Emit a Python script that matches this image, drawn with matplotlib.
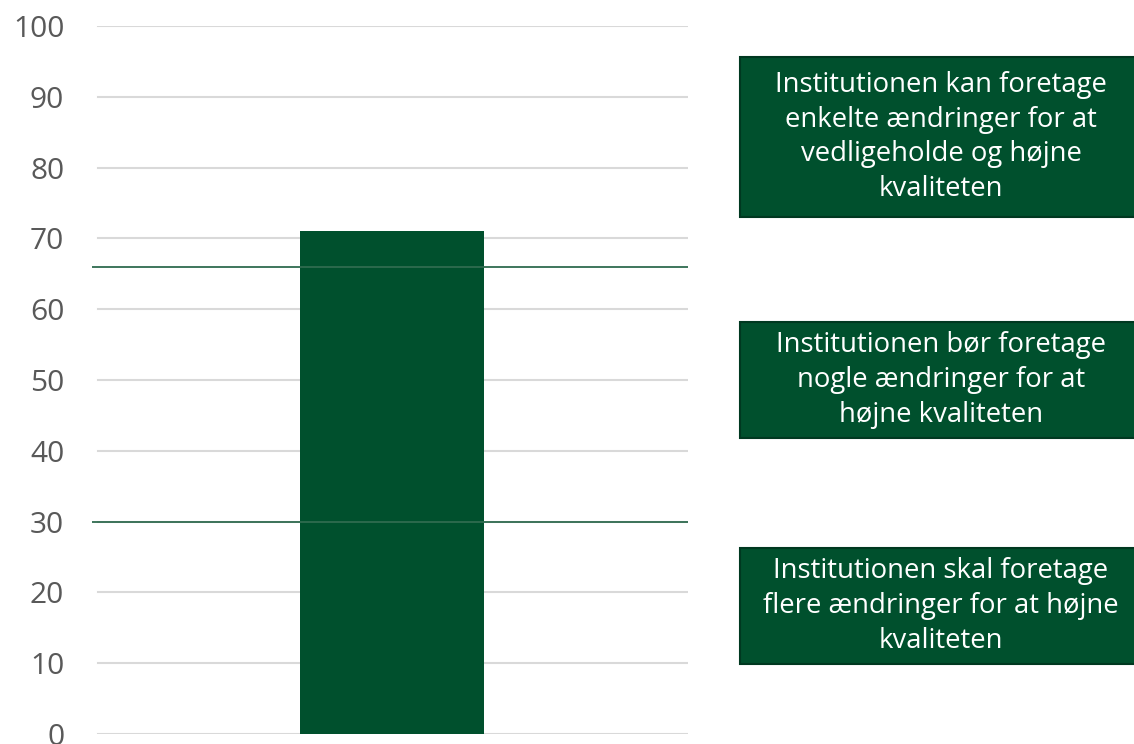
import matplotlib
matplotlib.use("Agg")
import matplotlib.pyplot as plt
from matplotlib.patches import Rectangle

plt.rcParams['font.family'] = ['Open Sans', 'DejaVu Sans']

categories = [""]
values = [71]
thresholds = [66, 30]
yticks = [0, 10, 20, 30, 40, 50, 60, 70, 80, 90, 100]
box_texts = [
    "Institutionen kan foretage\nenkelte ændringer for at\nvedligeholde og højne\nkvaliteten",
    "Institutionen bør foretage\nnogle ændringer for at\nhøjne kvaliteten",
    "Institutionen skal foretage\nflere ændringer for at højne\nkvaliteten",
]
# box extents in figure pixels (top, bottom)
box_pix = [(57, 217), (322, 438), (548, 664)]

W, H = 1134, 744
fig = plt.figure(figsize=(W / 100, H / 100), dpi=100)
ax = fig.add_axes([92 / W, (H - 734) / H, 596 / W, 708 / H])

green = "#00502D"
ax.bar(range(len(categories)), values, width=1.0, color=green, zorder=3)
ax.set_xlim(-1.63, 1.61)
ax.set_ylim(0, 100)
ax.set_yticks(yticks)
ax.set_yticklabels([str(t) for t in yticks], fontsize=21.5, color="#595959")
ax.tick_params(axis='y', length=0, pad=20)
ax.set_xticks([])
for s in ax.spines.values():
    s.set_visible(False)
for t in yticks:
    ax.axhline(t, xmin=0.01, xmax=1.0, color="#D9D9D9", lw=1.5, zorder=1)
for th in thresholds:
    ax.axhline(th, xmin=0, xmax=1.0, color="#2F6B4F", lw=1.3, zorder=4)

for txt, (top, bot) in zip(box_texts, box_pix):
    x0 = 740
    rect = Rectangle((x0 / W, (H - bot) / H), (W - x0 + 5) / W, (bot - top) / H,
                     transform=fig.transFigure, facecolor=green, edgecolor="#003820",
                     lw=1.5, clip_on=False)
    fig.patches.append(rect)
    fig.text(941 / W, (H - (top + bot) / 2) / H, txt, ha="center", va="center",
             color="white", fontsize=19.8, linespacing=1.32)

fig.savefig("out.png", dpi=100)
